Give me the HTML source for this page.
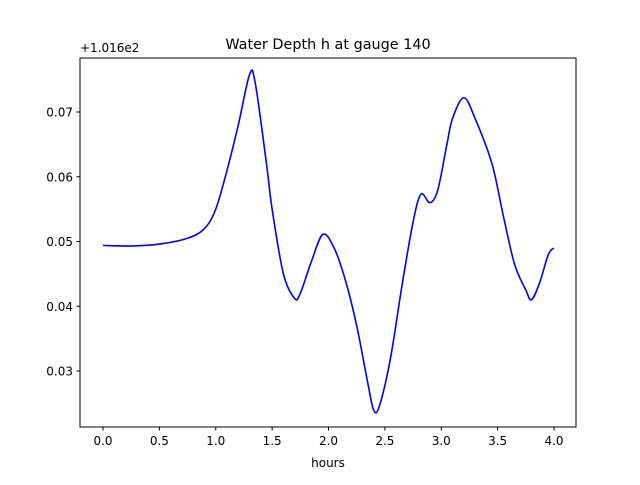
<!DOCTYPE html>
<html><head><meta charset="utf-8"><style>
body{margin:0;background:#fff;}
svg text{font-family:"DejaVu Sans","Liberation Sans",sans-serif;fill:#000;}
</style></head><body>
<svg width="640" height="480" xmlns="http://www.w3.org/2000/svg">
<rect width="640" height="480" fill="#fff"/>
<text x="328" y="49" font-size="14.4" text-anchor="middle">Water Depth h at gauge 140</text>
<text x="80" y="52" font-size="12">+1.016e2</text>
<g id="xt"></g>
<g id="yt"></g>
<path id="line" fill="none" stroke="#0000ff" stroke-width="1.6"/>
<rect x="80" y="58" width="496" height="369" fill="none" stroke="#000" stroke-width="1"/>
<text x="328" y="467" font-size="12" text-anchor="middle">hours</text>
</svg>
<script>
const hours=[0,0.25,0.5,0.75,0.9,1.0,1.1,1.2,1.3,1.35,1.45,1.5,1.6,1.7,1.75,1.85,1.95,2.05,2.15,2.25,2.35,2.4,2.45,2.55,2.65,2.75,2.82,2.9,2.97,3.05,3.1,3.2,3.3,3.45,3.55,3.65,3.75,3.8,3.87,3.95,4.0];
const depth=[0.0494,0.0493,0.0496,0.0505,0.052,0.055,0.061,0.068,0.0758,0.0745,0.062,0.055,0.045,0.0412,0.042,0.047,0.0511,0.049,0.044,0.037,0.028,0.024,0.0245,0.032,0.043,0.053,0.0573,0.056,0.058,0.065,0.069,0.0722,0.069,0.062,0.054,0.0465,0.0425,0.041,0.0435,0.048,0.049];
const xTicks=[0,0.5,1,1.5,2,2.5,3,3.5,4];
const xLabels=["0.0","0.5","1.0","1.5","2.0","2.5","3.0","3.5","4.0"];
const yTicks=[0.03,0.04,0.05,0.06,0.07];
const yLabels=["0.03","0.04","0.05","0.06","0.07"];
const X=v=>103+v*112.75;
const Y=v=>371-(v-0.03)*6475;
const ns="http://www.w3.org/2000/svg";
function mk(t,a,p){const e=document.createElementNS(ns,t);for(const k in a)e.setAttribute(k,a[k]);p.appendChild(e);return e;}
const xt=document.getElementById('xt'),yt=document.getElementById('yt');
xTicks.forEach((v,i)=>{
 const l=mk('line',{x1:X(v),x2:X(v),y1:427,y2:430.5,stroke:'#000'},xt);
 
 
 const t=mk('text',{x:X(v),y:445,'font-size':12,'text-anchor':'middle'},xt);t.textContent=xLabels[i];
 
 
});
yTicks.forEach((v,i)=>{
 const l=mk('line',{x1:76.5,x2:80,y1:Y(v),y2:Y(v),stroke:'#000'},yt);
 
 
 const t=mk('text',{x:73,y:Y(v)+4.5,'font-size':12,'text-anchor':'end'},yt);t.textContent=yLabels[i];
 
 
});
const P=hours.map((h,i)=>[X(h),Y(depth[i])]);
let d='M'+P[0][0]+','+P[0][1];
for(let i=0;i<P.length-1;i++){
 const p0=P[Math.max(i-1,0)],p1=P[i],p2=P[i+1],p3=P[Math.min(i+2,P.length-1)];
 const c1=[p1[0]+(p2[0]-p0[0])/6,p1[1]+(p2[1]-p0[1])/6];
 const c2=[p2[0]-(p3[0]-p1[0])/6,p2[1]-(p3[1]-p1[1])/6];
 d+=' C'+c1+' '+c2+' '+p2;
}
document.getElementById('line').setAttribute('d',d);
</script>
</body></html>
